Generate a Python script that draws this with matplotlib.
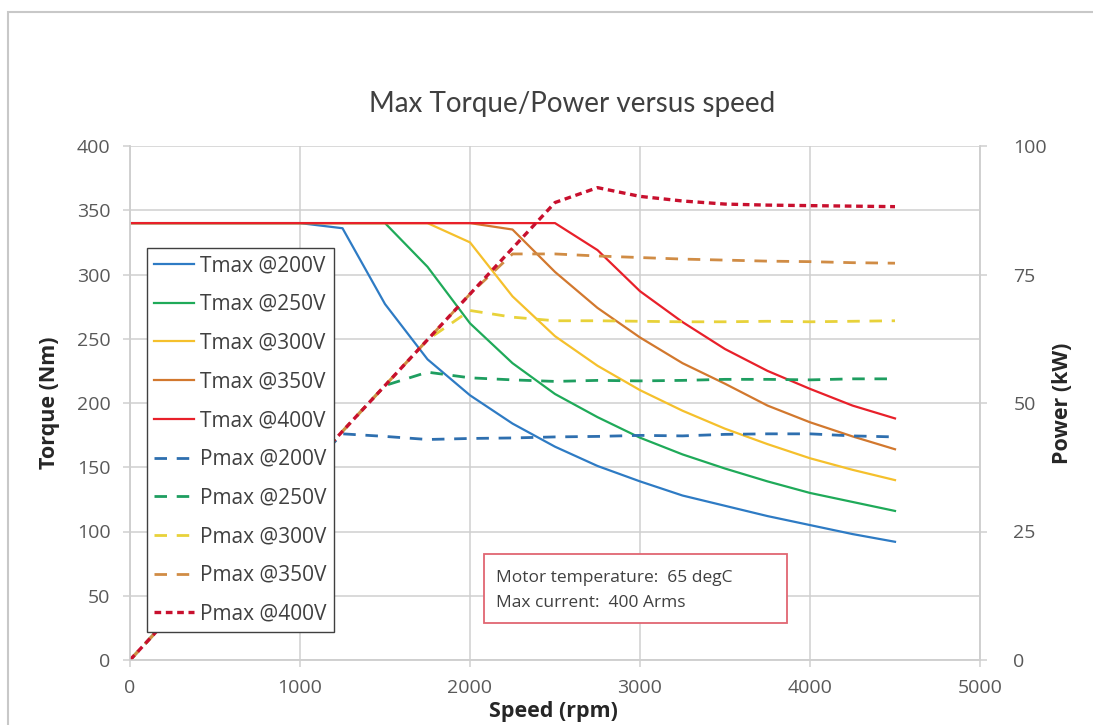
import matplotlib
matplotlib.use("Agg")
import matplotlib.pyplot as plt
from matplotlib.patches import Rectangle

plt.rcParams["font.family"] = ["Open Sans", "DejaVu Sans"]

# speed points (rpm)
SPEED = [0, 250, 500, 750, 1000, 1250, 1500, 1750, 2000, 2250,
         2500, 2750, 3000, 3250, 3500, 3750, 4000, 4250, 4500]

# max torque (Nm) per supply voltage
T_200 = [340, 340, 340, 340, 340, 336, 277, 234, 206, 184,
         166, 151, 139, 128, 120, 112, 105, 98, 92]
T_250 = [340, 340, 340, 340, 340, 340, 340, 306, 262, 231,
         207, 189, 173, 160, 149, 139, 130, 123, 116]
T_300 = [340, 340, 340, 340, 340, 340, 340, 340, 325, 283,
         252, 229, 210, 194, 180, 168, 157, 148, 140]
T_350 = [340, 340, 340, 340, 340, 340, 340, 340, 340, 335,
         302, 274, 251, 231, 215, 198, 185, 174, 164]
T_400 = [340, 340, 340, 340, 340, 340, 340, 340, 340, 340,
         340, 319, 287, 263, 242, 225, 211, 198, 188]

# max power (kW) per supply voltage
P_200 = [0, 8.9, 17.8, 26.7, 35.6, 44.0, 43.5, 42.9, 43.1, 43.2,
         43.4, 43.5, 43.7, 43.6, 43.9, 44.0, 44.0, 43.6, 43.4]
P_250 = [0, 8.9, 17.8, 26.7, 35.6, 44.5, 53.4, 56.0, 54.9, 54.5,
         54.2, 54.4, 54.3, 54.4, 54.6, 54.6, 54.5, 54.7, 54.7]
P_300 = [0, 8.9, 17.8, 26.7, 35.6, 44.5, 53.4, 62.3, 68.0, 66.7,
         66.0, 66.0, 65.9, 65.8, 65.8, 65.9, 65.8, 65.9, 66.0]
P_350 = [0, 8.9, 17.8, 26.7, 35.6, 44.5, 53.4, 62.3, 71.2, 79.0,
         79.0, 78.6, 78.3, 78.0, 77.8, 77.6, 77.5, 77.3, 77.2]
P_400 = [0, 8.9, 17.8, 26.7, 35.6, 44.5, 53.4, 62.3, 71.2, 80.1,
         89.0, 91.9, 90.2, 89.3, 88.7, 88.5, 88.4, 88.3, 88.2]

TORQUE = [("Tmax @200V", T_200, "#2E7BC4"), ("Tmax @250V", T_250, "#1FAA59"),
          ("Tmax @300V", T_300, "#F5C02C"), ("Tmax @350V", T_350, "#D2782E"),
          ("Tmax @400V", T_400, "#E8202A")]
POWER = [("Pmax @200V", P_200, "#2E6FAF"), ("Pmax @250V", P_250, "#1E9E60"),
         ("Pmax @300V", P_300, "#E8D23A"), ("Pmax @350V", P_350, "#D08C45")]

GREY_TXT = "#595959"
GRID = "#CFCFCF"

fig = plt.figure(figsize=(10.93, 7.25), dpi=100)
fig.patches.append(Rectangle((8 / 1093, -0.1), 1.2, 1.1 - 12 / 725,
                             transform=fig.transFigure, fill=False,
                             ec="#C8C8C8", lw=1.5))
ax = fig.add_axes([130 / 1093, 65 / 725, 850 / 1093, 514 / 725])
ax2 = ax.twinx()

handles = []
for label, vals, col in TORQUE:
    h, = ax.plot(SPEED, vals, color=col, lw=1.6, label=label)
    handles.append(h)
for label, vals, col in POWER:
    h, = ax2.plot(SPEED, vals, color=col, lw=2.0, dashes=(4.5, 3.5), label=label)
    handles.append(h)
h, = ax2.plot(SPEED, P_400, color="#C8102E", lw=2.4, dashes=(2.0, 1.4),
              label="Pmax @400V")
handles.append(h)

ax.set_xlim(0, 5000)
ax.set_ylim(0, 400)
ax2.set_ylim(0, 100)
ax.set_xticks(range(0, 5001, 1000))
ax.set_yticks(range(0, 401, 50))
ax2.set_yticks(range(0, 101, 25))
ax.grid(True, color=GRID, lw=1.1)
ax.set_axisbelow(True)

for a in (ax, ax2):
    a.spines["top"].set_visible(False)
    for s in ("left", "right", "bottom"):
        a.spines[s].set_color(GRID)
        a.spines[s].set_linewidth(1.1)
ax.tick_params(axis="both", colors=GRID, labelcolor=GREY_TXT, labelsize=14,
               length=5, width=1.1)
ax.tick_params(axis="y", pad=9)
ax.tick_params(axis="x", pad=9)
ax2.tick_params(axis="y", colors=GRID, labelcolor=GREY_TXT, labelsize=14,
                length=5, width=1.1, pad=19)

fig.text(572 / 1093, 1 - 104 / 725, "Max Torque/Power versus speed",
         ha="center", va="center", fontsize=20, color="#404040", family="Lato")
fig.text(50 / 1093, 1 - 403 / 725, "Torque (Nm)", rotation=90, ha="center",
         va="center", fontsize=15.5, fontweight="bold", color="#262626")
fig.text(1063 / 1093, 1 - 403 / 725, "Power (kW)", rotation=90, ha="center",
         va="center", fontsize=15.5, fontweight="bold", color="#262626")
fig.text(553 / 1093, 1 - 712 / 725, "Speed (rpm)", ha="center", va="center",
         fontsize=15.5, fontweight="bold", color="#262626")

leg = ax2.legend(handles=handles, loc="upper left", bbox_to_anchor=(0.02, 0.8016),
                 borderaxespad=0, fontsize=15, labelspacing=0.85,
                 handlelength=1.9, handletextpad=0.3, borderpad=0.35,
                 fancybox=False, framealpha=1, edgecolor="#404040")
leg.get_frame().set_linewidth(1.0)
for t in leg.get_texts():
    t.set_color("#404040")

ax2.add_patch(Rectangle((0.4165, 0.072), 0.3565, 0.134, transform=ax2.transAxes,
                        fc="white", ec="#E06672", lw=1.3, zorder=5))
ax2.text(0.4306, 0.1595, "Motor temperature:  65 degC", transform=ax2.transAxes,
         va="center", fontsize=12.5, color="#404040", zorder=6)
ax2.text(0.4306, 0.111, "Max current:  400 Arms", transform=ax2.transAxes,
         va="center", fontsize=12.5, color="#404040", zorder=6)

fig.savefig("out.png", dpi=100)
